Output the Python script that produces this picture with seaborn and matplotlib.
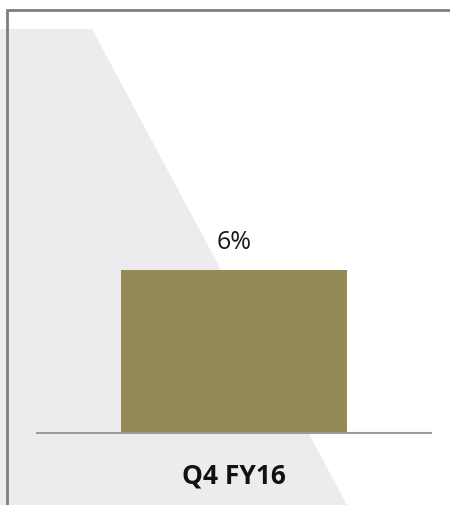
import matplotlib
matplotlib.use("Agg")
import matplotlib.pyplot as plt
from matplotlib.patches import Polygon
from matplotlib.lines import Line2D
import seaborn as sns
import pandas as pd

categories = ["Q4 FY16"]
values = [6]
value_labels = ["6%"]

sns.set_theme(style="white")
plt.rcParams["font.family"] = ["Open Sans", "DejaVu Sans"]

W, H = 450, 505
fig = plt.figure(figsize=(W / 100, H / 100), dpi=100)
fig.patch.set_facecolor("white")


def fx(px):
    return px / W


def fy(py):
    return 1 - py / H


# light grey slanted backdrop
backdrop = Polygon(
    [(fx(0), fy(29)), (fx(92), fy(29)), (fx(347), fy(505)), (fx(0), fy(505))],
    closed=True, transform=fig.transFigure, facecolor="#ececee",
    edgecolor="none", zorder=-2,
)
fig.patches.append(backdrop)

# outer frame (top and left edges)
frame = Line2D([fx(7), fx(7), fx(450)], [fy(505), fy(10), fy(10)],
               transform=fig.transFigure, color="#7f7f7f", lw=2.0,
               solid_joinstyle="miter", zorder=-1)
fig.lines.append(frame)

df = pd.DataFrame({"period": categories, "value": values})

ax = fig.add_axes([fx(37), fy(433), fx(431) - fx(37), fy(10) - fy(433)])
ax.set_zorder(2)
ax.patch.set_alpha(0)
sns.barplot(data=df, x="period", y="value", color="#948a55", saturation=1,
            width=0.574, linewidth=0, ax=ax, zorder=3)
ax.set_xlim(-0.5, 0.5)
ax.set_ylim(0, 15.57)

for bar, lab in zip(ax.patches, value_labels):
    ax.annotate(lab, (bar.get_x() + bar.get_width() / 2, bar.get_height()),
                xytext=(0, 11), textcoords="offset points",
                ha="center", va="bottom", fontsize=18, color="#1a1a1a")

for s in ["top", "right", "left"]:
    ax.spines[s].set_visible(False)
ax.spines["bottom"].set_color("#9a9a9a")
ax.spines["bottom"].set_linewidth(1.5)
ax.spines["bottom"].set_zorder(4)
ax.set_yticks([])
ax.set_xlabel("")
ax.set_ylabel("")
ax.tick_params(axis="x", length=0, pad=21)
for t in ax.get_xticklabels():
    t.set_fontweight("bold")
    t.set_fontsize(19)
    t.set_color("#111111")

fig.savefig("out.png", dpi=100, facecolor="white")
